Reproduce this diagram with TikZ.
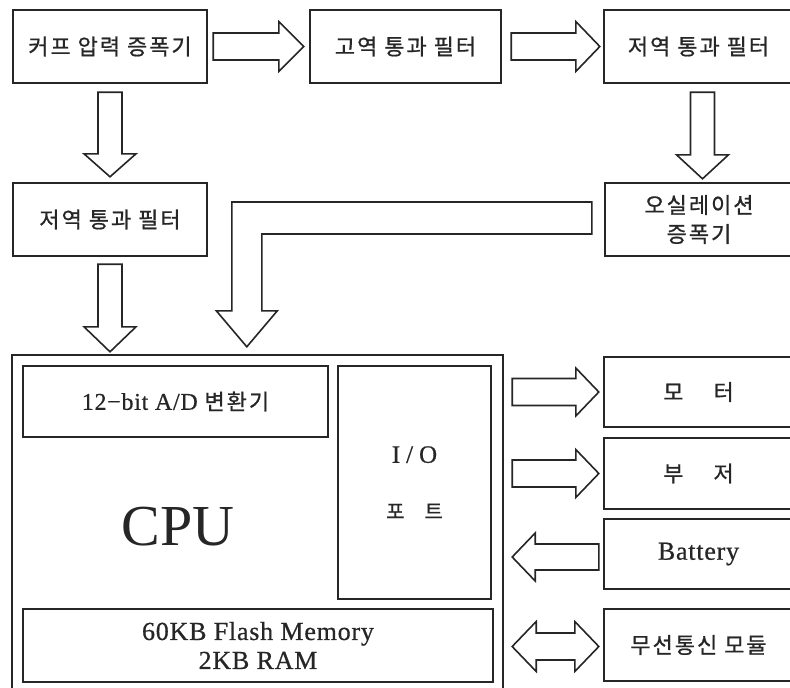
\documentclass[tikz,border=0pt]{standalone}
\usepackage{fontspec}
\setmainfont{Liberation Serif}
\newfontfamily\kr[LetterSpace=9,FakeBold=0.8]{Noto Sans CJK KR}
\newfontfamily\lat[LetterSpace=3,FakeBold=0.6]{Liberation Serif}
\usetikzlibrary{calc}

\tikzset{
  box/.style={draw=black!85, line width=2.4pt, fill=white, inner sep=0pt,
    align=center, text=black!85, font=\kr\fontsize{22}{29}\selectfont},
  fatline/.style={draw=black!85, line width=1.6pt, line join=miter, fill=white},
  lbl/.style={inner sep=0pt, align=center, text=black!85},
}

% straight fat arrow: start, end, body half width, head half width, head length
\newcommand\fatarr[5]{%
  \coordinate (hb) at ($(#2)!#5pt!(#1)$);
  \draw[fatline] ($(#1)!#3pt!90:(#2)$) -- ($(hb)!#3pt!90:(#2)$) -- ($(hb)!#4pt!90:(#2)$)
    -- (#2) -- ($(hb)!#4pt!-90:(#2)$) -- ($(hb)!#3pt!-90:(#2)$) -- ($(#1)!#3pt!-90:(#2)$) -- cycle;}
% double fat arrow
\newcommand\dblarr[5]{%
  \coordinate (hbA) at ($(#2)!#5pt!(#1)$);
  \coordinate (hbB) at ($(#1)!#5pt!(#2)$);
  \draw[fatline] (#1) -- ($(hbB)!#4pt!90:(#2)$) -- ($(hbB)!#3pt!90:(#2)$) -- ($(hbA)!#3pt!90:(#2)$)
    -- ($(hbA)!#4pt!90:(#2)$) -- (#2) -- ($(hbA)!#4pt!-90:(#2)$) -- ($(hbA)!#3pt!-90:(#2)$)
    -- ($(hbB)!#3pt!-90:(#2)$) -- ($(hbB)!#4pt!-90:(#2)$) -- cycle;}

\begin{document}
\begin{tikzpicture}[x=1pt,y=-1pt]
\useasboundingbox[fill=white] (0,0) rectangle (790,688);
\clip (0,0) rectangle (790,688);

% top row
\node[box, minimum width=194pt, minimum height=73pt] (amp) at (110,46.5) {커프 압력 증폭기};
\node[box, minimum width=191pt, minimum height=73pt] (hpf) at (405.5,46.5) {고역 통과 필터};
\node[box, minimum width=189pt, minimum height=73pt] (lpfR) at (698.5,46.5) {저역 통과 필터};
% second row
\node[box, minimum width=194pt, minimum height=73pt] (lpfL) at (110,219.5) {저역 통과 필터};
\node[box, minimum width=188pt, minimum height=73pt] (osc) at (699,219.5) {오실레이션\\증폭기};

% CPU block
\node[box, minimum width=491pt, minimum height=337pt] (cpu) at (257.5,523.5) {};
\node[box, minimum width=305pt, minimum height=71pt, font=\lat\fontsize{24}{29}\selectfont] (adc) at (175.5,401.5)
  {12−bit A/D {\kr\fontsize{22}{29}\selectfont 변환기}};
\node[box, minimum width=153pt, minimum height=233pt, font=\lat\fontsize{25}{29}\selectfont] (io) at (414.5,482.5)
  {I\hspace{6pt}/\hspace{6pt}O\\[27pt]{\kr\fontsize{20}{29}\selectfont 포\hspace{20pt}트}};
\node[box, minimum width=470pt, minimum height=73pt, font=\lat\fontsize{26}{29}\selectfont] (mem) at (258,645.5)
  {60KB Flash Memory\\2KB RAM};
\node[lbl, font=\rmfamily\fontsize{58}{60}\selectfont] (cpulbl) at (178,527) {CPU};

% right column
\node[box, minimum width=189pt, minimum height=70pt] (motor) at (698.5,392) {모\hspace{30pt}터};
\node[box, minimum width=189pt, minimum height=71pt] (buzzer) at (698.5,473.5) {부\hspace{30pt}저};
\node[box, minimum width=189pt, minimum height=70pt, font=\lat\fontsize{26}{29}\selectfont] (battery) at (698.5,554)
  {Battery};
\node[box, minimum width=189pt, minimum height=72pt] (wireless) at (698.5,645) {무선통신 모듈};

% arrows, top part
\coordinate (a1s) at ($(amp.east)+(5,0)$);
\coordinate (a1e) at ($(hpf.west)+(-5,0)$);
\fatarr{a1s}{a1e}{13.5}{25}{25}
\coordinate (a2s) at ($(hpf.east)+(9,0)$);
\coordinate (a2e) at ($(lpfR.west)+(-3,0)$);
\fatarr{a2s}{a2e}{13.5}{25}{24}
\coordinate (a3s) at ($(amp.south)+(0,8)$);
\coordinate (a3e) at ($(lpfL.north)+(0,-5)$);
\fatarr{a3s}{a3e}{12}{26}{23}
\coordinate (a4s) at ($(lpfL.south)+(0,7)$);
\coordinate (a4e) at ($(lpfL.south |- cpu.north)+(0,-2)$);
\fatarr{a4s}{a4e}{12}{26}{25}
\coordinate (a5s) at ($(lpfR.south)+(4,8)$);
\coordinate (a5e) at ($(lpfR.south |- osc.north)+(4,-3)$);
\fatarr{a5s}{a5e}{12}{26}{24}

% bent arrow from oscillation amplifier to CPU
\coordinate (bR) at ($(osc.west)+(-12,-1.5)$);
\coordinate (bT) at ($(cpu.north west)+(236,-7)$);
\draw[fatline] ($(bR)+(0,-16)$) -- ($(bT |- bR)+(-15,-16)$) -- ($(bT)+(-15,-36)$)
  -- ($(bT)+(-30.5,-36)$) -- (bT) -- ($(bT)+(30.5,-36)$) -- ($(bT)+(15,-36)$)
  -- ($(bT |- bR)+(15,16)$) -- ($(bR)+(0,16)$) -- cycle;

% arrows, right part
\coordinate (m1s) at ($(cpu.east |- motor.west)+(8,0)$);
\coordinate (m1e) at ($(motor.west)+(-4,0)$);
\fatarr{m1s}{m1e}{13.5}{24}{23}
\coordinate (m2s) at ($(cpu.east |- buzzer.west)+(8,0)$);
\coordinate (m2e) at ($(buzzer.west)+(-4,0)$);
\fatarr{m2s}{m2e}{13.5}{24}{23}
\coordinate (m3s) at ($(battery.west)+(-4,3)$);
\coordinate (m3e) at ($(cpu.east |- battery.west)+(8,3)$);
\fatarr{m3s}{m3e}{13}{24}{23}
\coordinate (m4s) at ($(cpu.east |- wireless.west)+(8,1.5)$);
\coordinate (m4e) at ($(wireless.west)+(-4,1.5)$);
\dblarr{m4s}{m4e}{13.5}{25}{24}
\end{tikzpicture}
\end{document}
